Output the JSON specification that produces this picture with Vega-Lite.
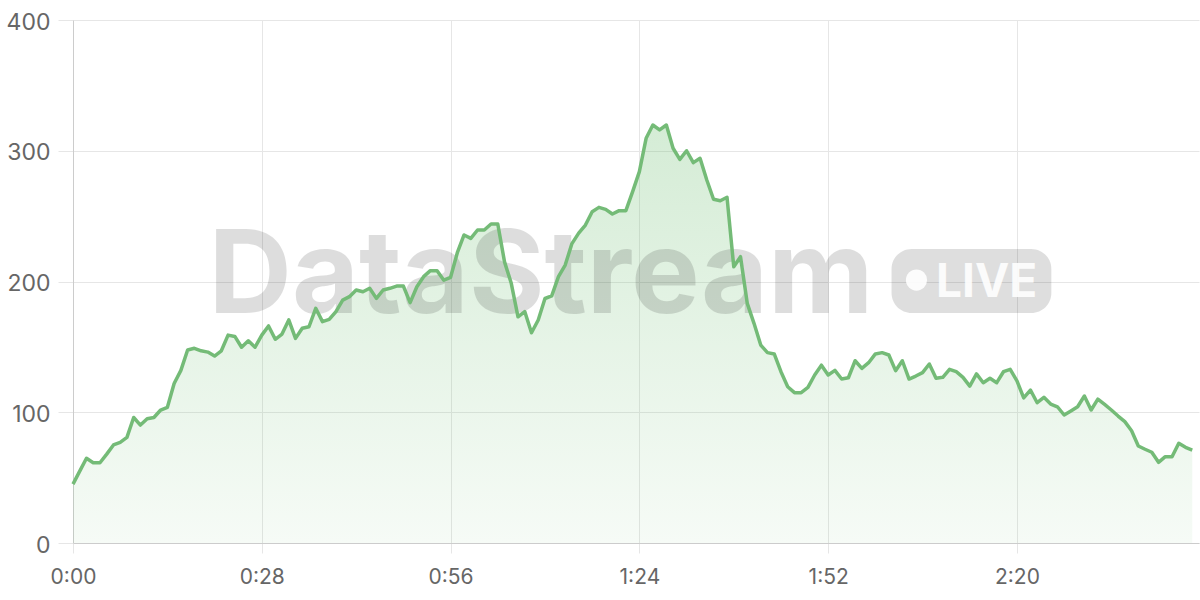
{
  "$schema": "https://vega.github.io/schema/vega-lite/v6.json",
  "width": 1126,
  "height": 523,
  "autosize": {"type": "none"},
  "padding": {"left": 73, "top": 20, "right": 1, "bottom": 57},
  "background": "white",
  "config": {"view": {"stroke": null}, "font": "Inter"},
  "data": {"values": [
    {"t":0,"value":45},{"t":1,"value":55},{"t":2,"value":64.8},{"t":3,"value":61.4},{"t":4,"value":61.4},{"t":5,"value":68},{"t":6,"value":75},{"t":7,"value":77},{"t":8,"value":80.8},{"t":9,"value":96},
    {"t":10,"value":90.2},{"t":11,"value":95},{"t":12,"value":96},{"t":13,"value":101.7},{"t":14,"value":103.8},{"t":15,"value":122},{"t":16,"value":132},{"t":17,"value":147.6},{"t":18,"value":148.9},{"t":19,"value":147},
    {"t":20,"value":146},{"t":21,"value":143},{"t":22,"value":147},{"t":23,"value":159},{"t":24,"value":158},{"t":25,"value":149.7},{"t":26,"value":154.7},{"t":27,"value":149.7},{"t":28,"value":159},{"t":29,"value":166},
    {"t":30,"value":155.8},{"t":31,"value":159.8},{"t":32,"value":170.6},{"t":33,"value":156.5},{"t":34,"value":164.2},{"t":35,"value":165.4},{"t":36,"value":179.5},{"t":37,"value":169.3},{"t":38,"value":171},{"t":39,"value":177},
    {"t":40,"value":185.8},{"t":41,"value":188.4},{"t":42,"value":193.5},{"t":43,"value":192.2},{"t":44,"value":194.8},{"t":45,"value":187.1},{"t":46,"value":193.5},{"t":47,"value":194.8},{"t":48,"value":196.5},{"t":49,"value":196.5},
    {"t":50,"value":183.8},{"t":51,"value":196},{"t":52,"value":203.7},{"t":53,"value":208.3},{"t":54,"value":208.3},{"t":55,"value":201},{"t":56,"value":203.2},{"t":57,"value":222},{"t":58,"value":235.6},{"t":59,"value":233},
    {"t":60,"value":239.4},{"t":61,"value":239.4},{"t":62,"value":244},{"t":63,"value":244},{"t":64,"value":215},{"t":65,"value":198.6},{"t":66,"value":173},{"t":67,"value":177},{"t":68,"value":160.8},{"t":69,"value":170.6},
    {"t":70,"value":187},{"t":71,"value":189},{"t":72,"value":203.7},{"t":73,"value":212.6},{"t":74,"value":229},{"t":75,"value":237},{"t":76,"value":243.2},{"t":77,"value":253.4},{"t":78,"value":256.7},{"t":79,"value":255.2},
    {"t":80,"value":251.6},{"t":81,"value":254.2},{"t":82,"value":254.2},{"t":83,"value":268.7},{"t":84,"value":284},{"t":85,"value":309.5},{"t":86,"value":319.7},{"t":87,"value":315.9},{"t":88,"value":319.7},{"t":89,"value":301.9},
    {"t":90,"value":293.4},{"t":91,"value":300},{"t":92,"value":290.9},{"t":93,"value":294.2},{"t":94,"value":277.6},{"t":95,"value":262.9},{"t":96,"value":261.8},{"t":97,"value":264.4},{"t":98,"value":211.3},{"t":99,"value":219},
    {"t":100,"value":183.3},{"t":101,"value":168},{"t":102,"value":151.4},{"t":103,"value":145.6},{"t":104,"value":144.6},{"t":105,"value":131},{"t":106,"value":119.5},{"t":107,"value":115},{"t":108,"value":115},{"t":109,"value":119},
    {"t":110,"value":128.5},{"t":111,"value":136},{"t":112,"value":128.5},{"t":113,"value":132},{"t":114,"value":125.4},{"t":115,"value":126.4},{"t":116,"value":139.4},{"t":117,"value":133.6},{"t":118,"value":137.9},{"t":119,"value":144.6},
    {"t":120,"value":145.6},{"t":121,"value":143.8},{"t":122,"value":131.8},{"t":123,"value":139.4},{"t":124,"value":125.4},{"t":125,"value":127.7},{"t":126,"value":130.3},{"t":127,"value":136.9},{"t":128,"value":126},{"t":129,"value":126.7},
    {"t":130,"value":132.8},{"t":131,"value":131},{"t":132,"value":126.7},{"t":133,"value":120},{"t":134,"value":129.3},{"t":135,"value":122.6},{"t":136,"value":126},{"t":137,"value":122.6},{"t":138,"value":131},{"t":139,"value":132.8},
    {"t":140,"value":124},{"t":141,"value":111},{"t":142,"value":117},{"t":143,"value":107.3},{"t":144,"value":111.4},{"t":145,"value":106.3},{"t":146,"value":104.2},{"t":147,"value":97.9},{"t":148,"value":101},{"t":149,"value":104.2},
    {"t":150,"value":112.4},{"t":151,"value":101.7},{"t":152,"value":110},{"t":153,"value":106},{"t":154,"value":101.7},{"t":155,"value":97.1},{"t":156,"value":92.8},{"t":157,"value":85.9},{"t":158,"value":74.2},{"t":159,"value":71.7},
    {"t":160,"value":69.4},{"t":161,"value":61.7},{"t":162,"value":66},{"t":163,"value":66},{"t":164,"value":76.3},{"t":165,"value":73.2},{"t":166,"value":71.1}
  ]},
  "layer": [
    {
      "mark": {"type": "area", "interpolate": "linear", "color": {"gradient": "linear", "x1": 0, "y1": 0, "x2": 0, "y2": 1, "stops": [{"offset": 0, "color": "rgba(102,187,106,0.28)"}, {"offset": 1, "color": "rgba(102,187,106,0.06)"}]}},
      "encoding": {
        "x": {"field": "t", "type": "quantitative", "scale": {"domain": [0, 167], "nice": false, "zero": false},
          "axis": {"values": [0, 28, 56, 84, 112, 140], "labelExpr": "floor(datum.value/60) + ':' + (datum.value % 60 < 10 ? '0' : '') + (datum.value % 60)", "title": null, "grid": true, "gridColor": "#e6e6e6", "tickColor": "#e6e6e6", "tickSize": 10, "domainColor": "#cccccc", "labelFontSize": 21, "labelColor": "#666666", "labelFont": "Inter", "labelPadding": 13, "labelFlush": false}},
        "y": {"field": "value", "type": "quantitative", "scale": {"domain": [0, 400], "nice": false},
          "axis": {"values": [0, 100, 200, 300, 400], "title": null, "grid": true, "gridColor": "#e6e6e6", "tickColor": "#e6e6e6", "tickSize": 15, "domainColor": "#cccccc", "labelFontSize": 23, "labelColor": "#666666", "labelFont": "Inter", "labelPadding": 8, "labelFlush": false, "labelOffset": 2}}
      }
    },
    {
      "data": {"values": [{}]},
      "mark": {"type": "text", "text": "DataStream", "font": "Inter", "fontSize": 115.5, "fontWeight": "bold", "align": "left", "baseline": "alphabetic", "color": "black", "opacity": 0.13},
      "encoding": {"x": {"datum": 20.1, "type": "quantitative"}, "y": {"datum": 176, "type": "quantitative"}}
    },
    {
      "data": {"values": [{}]},
      "mark": {"type": "rect", "color": "black", "opacity": 0.13, "cornerRadius": 20},
      "encoding": {"x": {"datum": 121.4, "type": "quantitative"}, "x2": {"datum": 145.1}, "y": {"datum": 224.9, "type": "quantitative"}, "y2": {"datum": 175.9}}
    },
    {
      "data": {"values": [{}]},
      "mark": {"type": "point", "filled": true, "shape": "circle", "color": "white", "opacity": 0.9, "size": 450},
      "encoding": {"x": {"datum": 125.1, "type": "quantitative"}, "y": {"datum": 201.1, "type": "quantitative"}}
    },
    {
      "data": {"values": [{}]},
      "mark": {"type": "text", "text": "LIVE", "font": "Inter", "fontSize": 46, "fontWeight": "bold", "align": "left", "baseline": "alphabetic", "color": "white", "opacity": 0.9},
      "encoding": {"x": {"datum": 128.0, "type": "quantitative"}, "y": {"datum": 188.4, "type": "quantitative"}}
    },
    {
      "mark": {"type": "line", "color": "#74bb77", "strokeWidth": 3.5, "strokeJoin": "round"},
      "encoding": {"x": {"field": "t", "type": "quantitative"}, "y": {"field": "value", "type": "quantitative"}}
    }
  ]
}
